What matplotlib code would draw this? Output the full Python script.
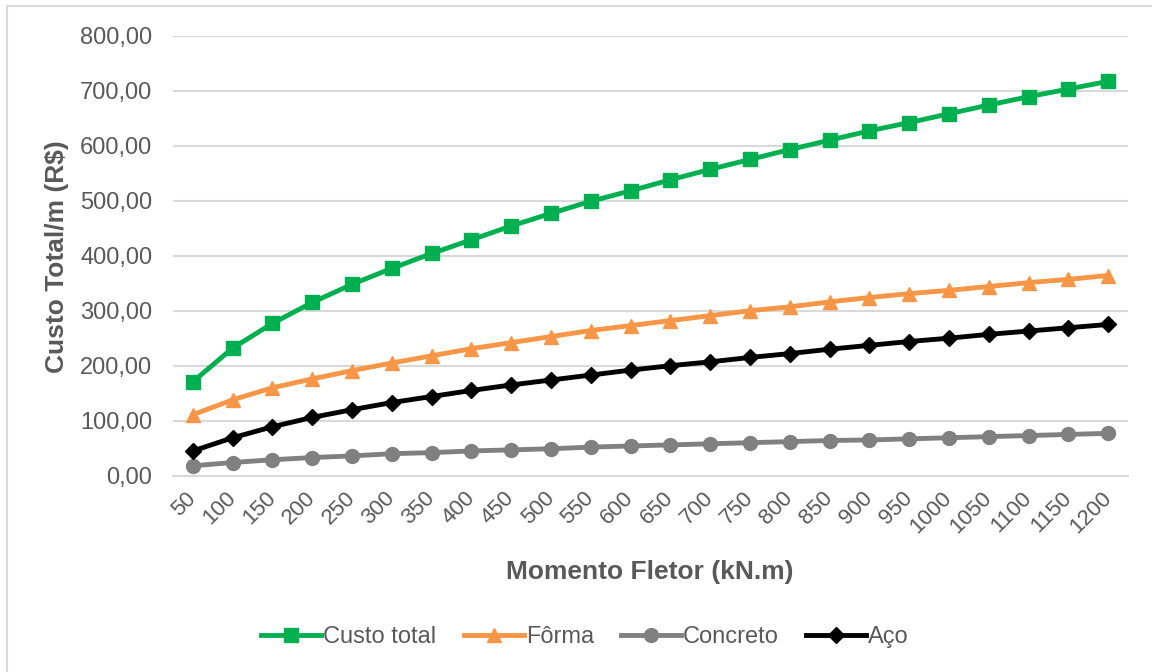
import matplotlib
matplotlib.use("Agg")
import matplotlib.pyplot as plt
from matplotlib.lines import Line2D

plt.rcParams['font.family'] = ['Liberation Sans', 'DejaVu Sans']

momento = [50, 100, 150, 200, 250, 300, 350, 400, 450, 500, 550, 600,
           650, 700, 750, 800, 850, 900, 950, 1000, 1050, 1100, 1150, 1200]
custo_total = [171, 232, 277, 315, 348, 377, 404, 429, 454, 477, 499, 518,
               538, 557, 575, 593, 610, 627, 642, 658, 674, 689, 703, 717]
forma = [111, 138, 160, 176, 191, 205, 218, 231, 242, 253, 264, 273,
         282, 291, 300, 307, 316, 324, 331, 337, 344, 351, 357, 364]
concreto = [18, 24, 29, 33, 36, 40, 42, 45, 47, 49, 52, 54,
            56, 58, 60, 62, 64, 65, 67, 69, 71, 73, 75, 77]
aco = [45, 69, 89, 106, 120, 133, 144, 155, 165, 174, 183, 192,
       200, 207, 215, 222, 230, 237, 244, 250, 257, 263, 269, 275]
yticks = [0, 100, 200, 300, 400, 500, 600, 700, 800]

W, H = 1152, 672
fig = plt.figure(figsize=(W / 100, H / 100), dpi=100)
ax = fig.add_axes([173 / W, 1 - 475.7 / H, (1128 - 173) / W, (475.7 - 35.7) / H])

x = list(range(len(momento)))
tc = '#595959'
ax.plot(x, custo_total, color='#00B050', lw=3.5, marker='s', ms=10, label='Custo total', zorder=3)
ax.plot(x, forma, color='#F79646', lw=3.5, marker='^', ms=10.5, label='Fôrma', zorder=3)
ax.plot(x, concreto, color='#808080', lw=3.5, marker='o', ms=10, label='Concreto', zorder=3)
ax.plot(x, aco, color='#000000', lw=3.5, marker='D', ms=8, label='Aço', zorder=3)

ax.set_xlim(-0.5, len(momento) - 0.5)
ax.set_ylim(0, 800)
ax.set_yticks(yticks)
ax.set_yticklabels([f"{v:.2f}".replace('.', ',') for v in yticks], fontsize=17, color=tc)
ax.set_xticks(x)
ax.set_xticklabels([str(m) for m in momento], rotation=45, ha='right', va='center',
                   rotation_mode='anchor', fontsize=16, color=tc)
ax.tick_params(axis='y', length=0, pad=15)
ax.tick_params(axis='x', length=0, pad=14)
ax.grid(axis='y', color='#D9D9D9', lw=1.5, zorder=0)
for s in ['top', 'right', 'left']:
    ax.spines[s].set_visible(False)
ax.spines['bottom'].set_color('#D9D9D9')
ax.spines['bottom'].set_linewidth(1.5)

fig.text(57 / W, 1 - 257 / H, 'Custo Total/m (R$)', fontsize=19, fontweight='bold', color=tc,
         ha='center', va='center', rotation=90)
fig.text(650 / W, 1 - 572 / H, 'Momento Fletor (kN.m)', fontsize=19, fontweight='bold', color=tc,
         ha='center', va='center')

fig.legend(loc='center', bbox_to_anchor=(585 / W, 1 - 637 / H), ncol=4, frameon=False,
           fontsize=17, handlelength=2.55, handletextpad=0.08, columnspacing=1.15,
           labelcolor=tc)

fig.add_artist(Line2D([7 / W, 1.0], [1 - 6 / H, 1 - 6 / H], transform=fig.transFigure,
                      color='#D9D9D9', lw=1.5))
fig.add_artist(Line2D([7 / W, 7 / W], [0, 1 - 6 / H], transform=fig.transFigure,
                      color='#D9D9D9', lw=1.5))

fig.savefig('out.png', dpi=100, facecolor='white')
